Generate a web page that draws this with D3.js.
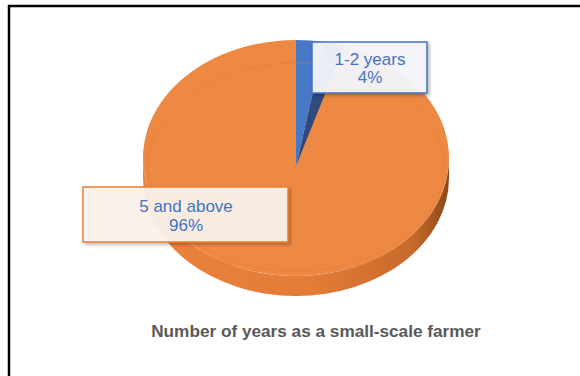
<!DOCTYPE html>
<html>
<head>
<meta charset="utf-8">
<script src="https://cdn.jsdelivr.net/npm/d3@7"></script>
<style>
  html, body { margin: 0; padding: 0; background: #ffffff; }
  svg { display: block; }
</style>
</head>
<body>
<div id="chart"></div>
<script>
// ---- data ----
const categories = ["1-2 years", "5 and above"];
const values = [4, 96];
const percentLabels = ["4%", "96%"];
const chartTitle = "Number of years as a small-scale farmer";
const sliceColors = ["#4A78C8", "#EE8944"];
const labelBorders = ["#4472C4", "#ED7D31"];
const labelFills = ["#F4F7FC", "#FBF2EB"];

// ---- layout ----
const W = 580, H = 376;
const cx = 296, cy = 158, rx = 153, ry = 118, depth = 20, apexDrop = 8;

const svg = d3.select("#chart").append("svg")
  .attr("width", W).attr("height", H)
  .style("font-family", "'Liberation Sans', Arial, sans-serif");

const defs = svg.append("defs");
const sideGrad = defs.append("linearGradient").attr("id", "sideGrad")
  .attr("x1", "0%").attr("x2", "100%").attr("y1", "0%").attr("y2", "0%");
sideGrad.append("stop").attr("offset", "0%").attr("stop-color", "#E9823C");
sideGrad.append("stop").attr("offset", "55%").attr("stop-color", "#E27C37");
sideGrad.append("stop").attr("offset", "88%").attr("stop-color", "#C86A2B");
sideGrad.append("stop").attr("offset", "100%").attr("stop-color", "#8A4818");

const shadow = defs.append("filter").attr("id", "shadow")
  .attr("x", "-10%").attr("y", "-10%").attr("width", "130%").attr("height", "140%");
shadow.append("feDropShadow").attr("dx", 2).attr("dy", 2).attr("stdDeviation", 1.6)
  .attr("flood-color", "#000").attr("flood-opacity", 0.28);

svg.append("rect").attr("x", 0).attr("y", 0).attr("width", W).attr("height", H).attr("fill", "#fff");

const pie = d3.pie().sort(null).value(d => d);
const arcs = pie(values);

function rim(a, dy = 0) { return [cx + rx * Math.sin(a), cy - ry * Math.cos(a) + dy]; }
const apex = [cx, cy + apexDrop];
function wedge(a0, a1) {
  const p0 = rim(a0), p1 = rim(a1);
  const large = (a1 - a0) > Math.PI ? 1 : 0;
  return `M${apex[0]},${apex[1]}L${p0[0]},${p0[1]}A${rx},${ry} 0 ${large} 1 ${p1[0]},${p1[1]}Z`;
}

const g = svg.append("g");

// side wall (near half)
const r0 = rim(Math.PI / 2), r1 = rim(3 * Math.PI / 2);
g.append("path")
  .attr("d", `M${r0[0]},${r0[1]}A${rx},${ry} 0 0 1 ${r1[0]},${r1[1]}L${r1[0]},${r1[1] + depth}A${rx},${ry} 0 0 0 ${r0[0]},${r0[1] + depth}Z`)
  .attr("fill", "url(#sideGrad)");

// top faces
const small = arcs[0];
const cutBack = 0.065, cutFwd = 0.07;
g.append("path").attr("d", wedge(arcs[1].startAngle, arcs[1].endAngle)).attr("fill", sliceColors[1]);
g.append("path").attr("d", wedge(small.startAngle, small.endAngle - cutBack)).attr("fill", sliceColors[0]);
g.append("path").attr("d", wedge(small.endAngle - cutBack, small.endAngle + cutFwd)).attr("fill", "#2F4A7E");

// faint bevel outline
g.append("ellipse").attr("cx", cx).attr("cy", cy + 9).attr("rx", rx - 5).attr("ry", ry - 14)
  .attr("fill", "none").attr("stroke", "#D9722F").attr("stroke-opacity", 0.35).attr("stroke-width", 1);

// data labels
const labelBoxes = [
  { x: 312, y: 42, w: 115, h: 51, tx: 370, l1: 65, l2: 83 },
  { x: 83, y: 187, w: 205, h: 55, tx: 186, l1: 212, l2: 231 }
];
arcs.forEach((a, i) => {
  const b = labelBoxes[i];
  const lg = svg.append("g");
  lg.append("rect").attr("x", b.x).attr("y", b.y).attr("width", b.w).attr("height", b.h)
    .attr("fill", labelFills[i]).attr("fill-opacity", 0.94)
    .attr("stroke", labelBorders[i]).attr("stroke-width", 1.5)
    .attr("filter", "url(#shadow)");
  lg.append("text").attr("x", b.tx).attr("y", b.l1).attr("text-anchor", "middle")
    .attr("font-size", 17).attr("fill", "#4472C4").text(categories[i]);
  lg.append("text").attr("x", b.tx).attr("y", b.l2).attr("text-anchor", "middle")
    .attr("font-size", 17).attr("fill", "#4472C4").text(percentLabels[i]);
});

// title
svg.append("text").attr("x", 316).attr("y", 337).attr("text-anchor", "middle")
  .attr("font-size", 17.2).attr("font-weight", "bold").attr("fill", "#595959").text(chartTitle);

// frame
svg.append("rect").attr("x", 9).attr("y", 6).attr("width", 700).attr("height", 500)
  .attr("fill", "none").attr("stroke", "#000").attr("stroke-width", 2.5);
</script>
</body>
</html>
